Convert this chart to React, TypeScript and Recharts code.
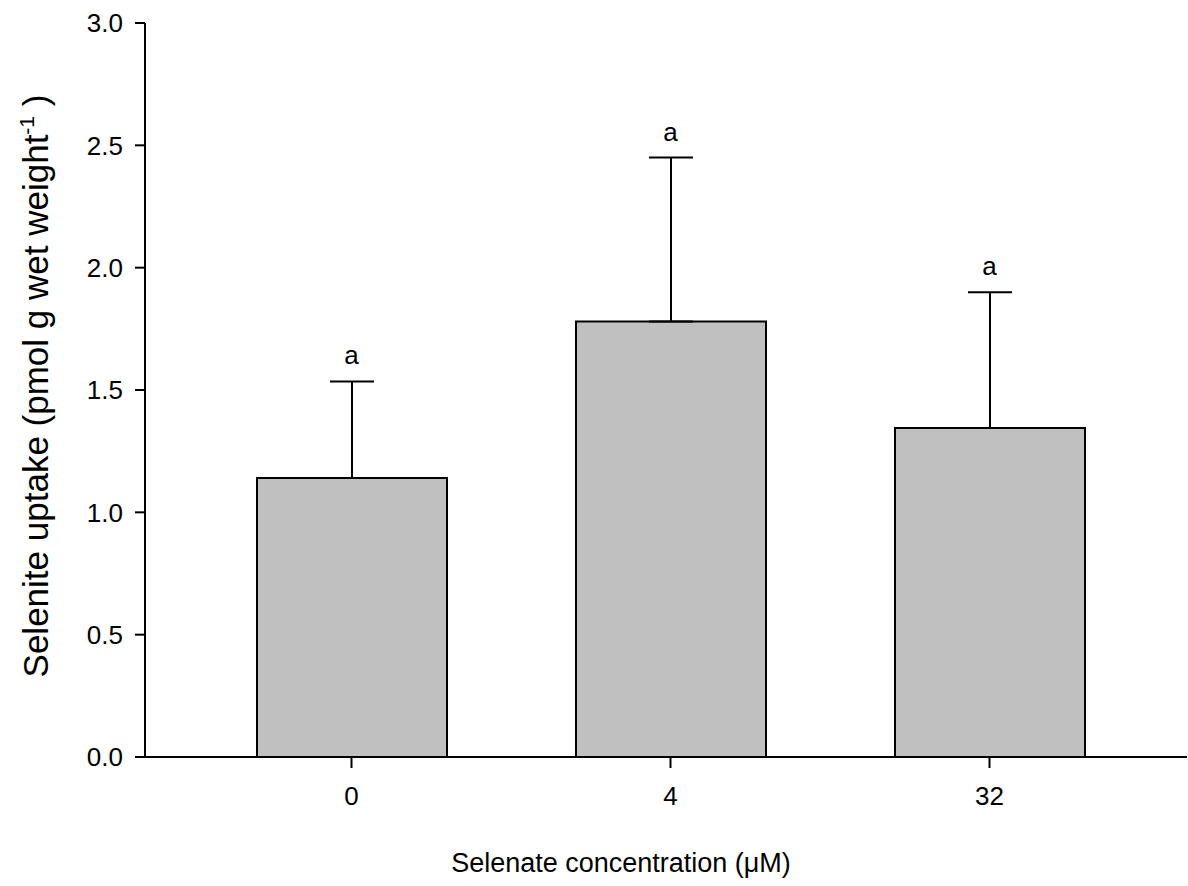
import React from 'react'
import { ComposedChart, Bar, Line, XAxis, YAxis, ErrorBar, LabelList, Label } from 'recharts'

// Selenate concentration (µM)
const concentrations = ['0', '4', '32']
// mean selenite uptake and upper SE
const uptake = [1.14, 1.78, 1.345]
const uptakeErr = [0.395, 0.67, 0.555]
const letters = ['a', 'a', 'a']
const yTicks = [0, 0.5, 1.0, 1.5, 2.0, 2.5, 3.0]

const chartData = concentrations.map((c, i) => ({
  name: c,
  uptake: uptake[i],
  err: [0, uptakeErr[i]],
  top: uptake[i] + uptakeErr[i],
  letter: letters[i],
}))

const FONT = '"Liberation Sans", Arial, sans-serif'

const YLabel = () => (
  <text
    x={48}
    y={386}
    transform="rotate(-90, 48, 386)"
    textAnchor="middle"
    fontFamily={FONT}
    fontSize={35}
    fill="#000"
  >
    Selenite uptake (pmol g wet weight
    <tspan fontSize={21} dy={-14}>-1</tspan>
    <tspan dy={14}> )</tspan>
  </text>
)

const XLabel = () => (
  <text x={621} y={872} textAnchor="middle" fontFamily={FONT} fontSize={27} fill="#000">
    Selenate concentration (μM)
  </text>
)

export default function App() {
  return (
    <div style={{ width: 1188, height: 886, background: '#fff' }}>
      <style>{`body{margin:0}`}</style>
      <ComposedChart
        width={1188}
        height={886}
        data={chartData}
        margin={{ top: 23, right: 1, left: 0, bottom: 49 }}
      >
        <XAxis
          dataKey="name"
          height={80}
          padding={{ left: 47, right: 38 }}
          axisLine={{ stroke: '#000', strokeWidth: 2 }}
          tickLine={{ stroke: '#000', strokeWidth: 2 }}
          tickSize={11}
          tickMargin={19}
          tick={{ fill: '#000', fontSize: 26, fontFamily: FONT }}
        >
          <Label content={<XLabel />} />
        </XAxis>
        <YAxis
          width={145}
          domain={[0, 3]}
          ticks={yTicks}
          interval={0}
          tickFormatter={(v: number) => v.toFixed(1)}
          axisLine={{ stroke: '#000', strokeWidth: 2 }}
          tickLine={{ stroke: '#000', strokeWidth: 2 }}
          tickSize={10}
          tickMargin={12}
          tick={{ fill: '#000', fontSize: 26, fontFamily: FONT }}
        >
          <Label content={<YLabel />} />
        </YAxis>
        <Bar
          dataKey="uptake"
          fill="#c0c0c0"
          stroke="#000"
          strokeWidth={2}
          barSize={190}
          isAnimationActive={false}
        >
          <ErrorBar dataKey="err" width={22} stroke="#000" strokeWidth={2} direction="y" />
        </Bar>
        <Line
          dataKey="top"
          stroke="none"
          dot={false}
          activeDot={false}
          isAnimationActive={false}
        >
          <LabelList
            dataKey="letter"
            position="top"
            offset={17}
            fill="#000"
            fontSize={26}
            fontFamily={FONT}
          />
        </Line>
      </ComposedChart>
    </div>
  )
}
